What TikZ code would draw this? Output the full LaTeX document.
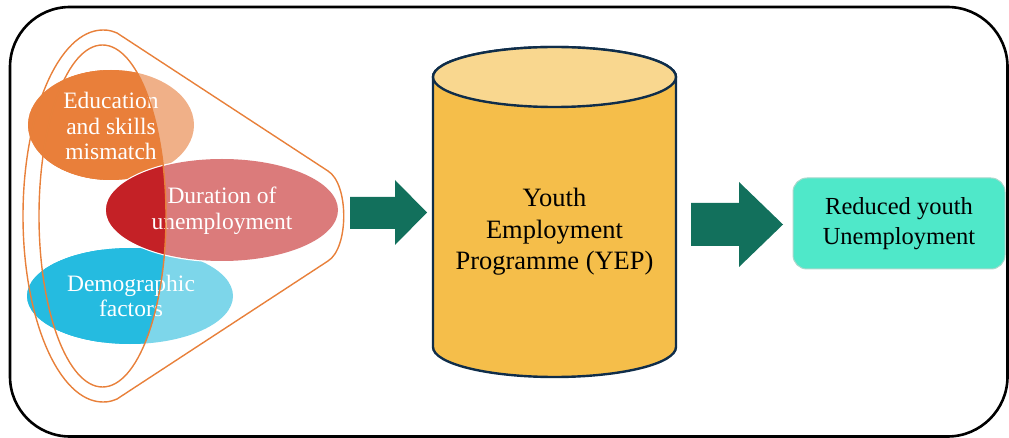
\documentclass[tikz,border=0pt]{standalone}
\usepackage{fontspec}
\setmainfont{Liberation Serif}
\definecolor{eduL}{HTML}{F0B088}
\definecolor{eduD}{HTML}{E97F3A}
\definecolor{durL}{HTML}{DB7B7B}
\definecolor{durD}{HTML}{C42126}
\definecolor{demL}{HTML}{7DD6EA}
\definecolor{demD}{HTML}{25BBE0}
\definecolor{orl}{HTML}{E8803A}
\definecolor{arr}{HTML}{12705C}
\definecolor{cylB}{HTML}{F5BE4A}
\definecolor{cylT}{HTML}{F9D78F}
\definecolor{cylE}{HTML}{0F2D4A}
\definecolor{turq}{HTML}{4FE8C9}
\definecolor{turqE}{HTML}{A8D8CC}
\tikzset{
  wlbl/.style={text=white,align=center,inner sep=0pt,font=\fontsize{23.5}{25.5}\selectfont},
  blbl/.style={text=black,align=center,inner sep=0pt},
  blockarrow/.style={fill=arr,draw=none},
  outl/.style={draw=orl,line width=1.4pt},
}
\newcommand{\twotone}[5]{% center, rx, ry, light, dark
  \fill[#4] #1 ellipse[x radius=#2,y radius=#3];
  \begin{scope}\clip (0,0) rectangle (102.5,438);
    \fill[#5] #1 ellipse[x radius=#2,y radius=#3];\end{scope}
  \begin{scope}\clip (102.5,216) ellipse[x radius=63.5,y radius=171];
    \fill[#5] #1 ellipse[x radius=#2,y radius=#3];\end{scope}
}
\begin{document}
\begin{tikzpicture}[x=1pt,y=-1pt]
\useasboundingbox (0,0) rectangle (1009,438);
% outer frame
\draw[line width=2.6pt,rounded corners=60pt] (10,7) rectangle (1007.5,436.5);
% ellipses
\twotone{(111,125)}{83}{55}{eduL}{eduD}
\twotone{(130,296)}{103}{48}{demL}{demD}
\draw[white,line width=2.5pt] (222,210) ellipse[x radius=116,y radius=51];
\twotone{(222,210)}{116}{51}{durL}{durD}
\node[wlbl] (edu) at (111,126) {Education\\and skills\\mismatch};
\node[wlbl] (dur) at (222,211) {Duration of\\unemployment};
\node[wlbl] (dem) at (131,296) {Demographic\\factors};
% orange outlines
\draw[outl] (102.5,216) ellipse[x radius=63.5,y radius=171];
\draw[outl] (103,30) .. controls (109,30) and (112,31) .. (117,33)
  -- (328,171) .. controls (349,184) and (349,248) .. (328,261)
  -- (117,399) .. controls (112,401) and (109,402) .. (103,402)
  arc[start angle=90,end angle=270,x radius=80,y radius=186] -- cycle;
% cylinder
\draw[fill=cylB,draw=cylE,line width=2.4pt] (433,77) -- (433,347)
  arc[start angle=180,end angle=0,x radius=121.5,y radius=30] -- (676,77)
  arc[start angle=0,end angle=-180,x radius=121.5,y radius=30] -- cycle;
\draw[fill=cylT,draw=cylE,line width=2.4pt] (554.5,77) ellipse[x radius=121.5,y radius=30];
\node[blbl,font=\fontsize{26.5}{31.5}\selectfont] (yep) at (554.5,232) {Youth\\Employment\\Programme (YEP)};
% result box
\node[blbl,font=\fontsize{24.5}{30}\selectfont,fill=turq,draw=turqE,line width=1pt,rounded corners=14pt,minimum width=212pt,minimum height=91pt] (red) at (899,223.5) {Reduced youth\\Unemployment};
% block arrows
\coordinate (a1) at (350,213);
\coordinate (a2) at (691,224.5);
\fill[blockarrow] (a1) ++(0,-16) -- ++(45,0) -- ++(0,-17) -- ++(32,32.5) -- ++(-32,32.5) -- ++(0,-16) -- ++(-45,0) -- cycle;
\fill[blockarrow] (a2) ++(0,-21.5) -- ++(48,0) -- ++(0,-21) -- ++(44,42.5) -- ++(-44,42.5) -- ++(0,-21) -- ++(-48,0) -- cycle;
\end{tikzpicture}
\end{document}
